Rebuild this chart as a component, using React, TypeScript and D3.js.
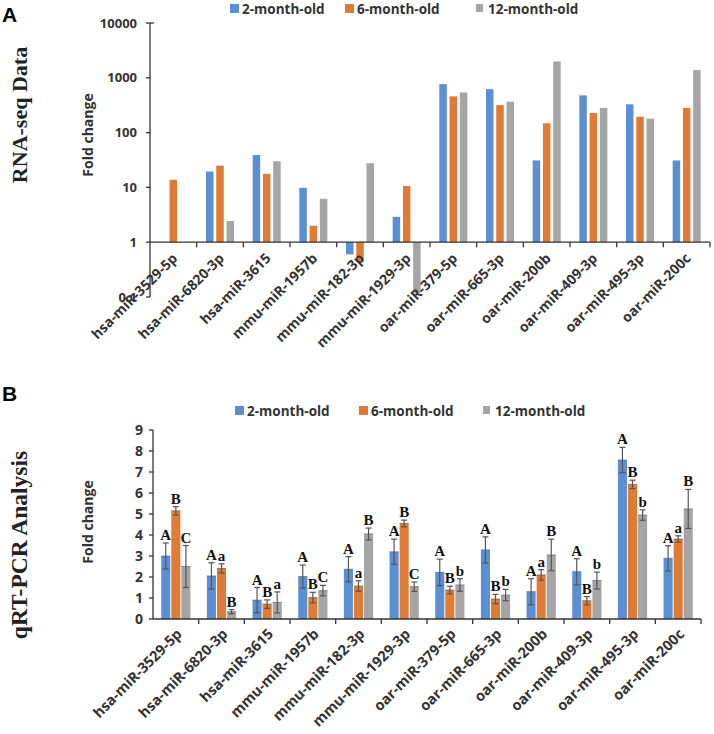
import React from "react";
import * as d3 from "d3";

const categories = [
  "hsa-miR-3529-5p", "hsa-miR-6820-3p", "hsa-miR-3615", "mmu-miR-1957b",
  "mmu-miR-182-3p", "mmu-miR-1929-3p", "oar-miR-379-5p", "oar-miR-665-3p",
  "oar-miR-200b", "oar-miR-409-3p", "oar-miR-495-3p", "oar-miR-200c",
];
const seriesNames = ["2-month-old", "6-month-old", "12-month-old"];
const colors = ["#5B8FD4", "#E07B35", "#A5A5A5"];

// Panel A: RNA-seq fold change (log scale); null = no bar
const rnaSeq2m = [null, 19.5, 39, 9.8, 0.6, 2.9, 768, 620, 31, 478, 328, 31];
const rnaSeq6m = [13.8, 25, 17.7, 2.0, 0.44, 10.6, 458, 318, 148, 228, 195, 282];
const rnaSeq12m = [null, 2.44, 30, 6.2, 27.7, 0.117, 540, 366, 1990, 282, 180, 1380];
const logTicks = [0.1, 1, 10, 100, 1000, 10000];

// Panel B: qRT-PCR fold change, error and significance letters
const qpcr2m = [3.0, 2.05, 0.9, 2.02, 2.37, 3.2, 2.22, 3.29, 1.3, 2.25, 7.57, 2.89];
const qpcr6m = [5.15, 2.41, 0.71, 1.02, 1.57, 4.55, 1.38, 0.95, 2.1, 0.87, 6.41, 3.81];
const qpcr12m = [2.5, 0.35, 0.79, 1.35, 4.05, 1.54, 1.62, 1.14, 3.05, 1.83, 4.95, 5.24];
const err2m = [0.62, 0.63, 0.6, 0.55, 0.6, 0.6, 0.63, 0.62, 0.62, 0.62, 0.6, 0.6];
const err6m = [0.2, 0.22, 0.2, 0.25, 0.25, 0.16, 0.18, 0.22, 0.25, 0.2, 0.2, 0.15];
const err12m = [1.0, 0.1, 0.5, 0.25, 0.28, 0.22, 0.3, 0.27, 0.75, 0.4, 0.25, 0.93];
const letters2m = ["A", "A", "A", "A", "A", "A", "A", "A", "A", "A", "A", "A"];
const letters6m = ["B", "a", "B", "B", "a", "B", "B", "B", "a", "B", "B", "a"];
const letters12m = ["C", "B", "a", "C", "B", "C", "b", "b", "B", "b", "b", "B"];
const linearTicks = [0, 1, 2, 3, 4, 5, 6, 7, 8, 9];

const SANS = "'Open Sans', 'Noto Sans', sans-serif";
const SERIF = "'Liberation Serif', 'DejaVu Serif', serif";

function Legend({ y, xs }: { y: number; xs: number[] }) {
  return (
    <g>
      {seriesNames.map((n, i) => (
        <g key={n}>
          <rect x={xs[i]} y={y - 5} width={i === 2 ? 7 : 9} height={i === 2 ? 8 : 9} fill={colors[i]} />
          <text x={xs[i] + 12} y={y + 4.5} fontFamily={SANS} fontWeight={700} fontSize={13.5} fill="#333">{n}</text>
        </g>
      ))}
    </g>
  );
}

function PanelA() {
  const x0 = 150, x1 = 710;
  const y = d3.scaleLog().domain([0.1, 10000]).range([297, 23]);
  const xb = d3.scaleBand<string>().domain(categories).range([x0, x1]).paddingInner(0).paddingOuter(0);
  const bw = xb.bandwidth();
  const inner = d3.scaleBand<string>().domain(seriesNames).range([bw * 0.2, bw * 0.8]).paddingInner(0.27);
  const data = [rnaSeq2m, rnaSeq6m, rnaSeq12m];
  const base = y(1);
  return (
    <g>
      <text x={2} y={22} fontFamily="'Liberation Sans', Arial, sans-serif" fontWeight={700} fontSize={21} fill="#000">A</text>
      <Legend y={9} xs={[230, 345, 476]} />
      <text transform={`translate(27,115) rotate(-90)`} textAnchor="middle" fontFamily={SERIF} fontWeight={700} fontSize={22} fill="#222">RNA-seq Data</text>
      <text transform={`translate(93,135) rotate(-90)`} textAnchor="middle" fontFamily={SANS} fontWeight={700} fontSize={14} fill="#333">Fold change</text>
      {data.map((vals, si) =>
        vals.map((v, ci) => {
          if (v == null) return null;
          const bx = (xb(categories[ci]) as number) + (inner(seriesNames[si]) as number);
          const yv = y(v);
          return <rect key={`${si}-${ci}`} x={bx} y={Math.min(yv, base)} width={inner.bandwidth()} height={Math.abs(base - yv)} fill={colors[si]} />;
        })
      )}
      <line x1={x0} x2={x0} y1={y(10000)} y2={y(0.1)} stroke="#333" strokeWidth={1.3} />
      <line x1={x0} x2={x0 + 4} y1={y(10000)} y2={y(10000)} stroke="#333" strokeWidth={1.3} />
      {logTicks.map((t) => (
        <g key={t}>
          <line x1={x0 - 4} x2={x0} y1={y(t)} y2={y(t)} stroke="#333" strokeWidth={1.3} />
          <text x={x0 - 13} y={y(t) + 4.5} textAnchor="end" fontFamily={SANS} fontWeight={700} fontSize={13} fill="#333">{String(t)}</text>
        </g>
      ))}
      <line x1={x0} x2={x1} y1={base} y2={base} stroke="#333" strokeWidth={1.3} />
      {categories.map((c) => (
        <line key={c} x1={(xb(c) as number) + bw} x2={(xb(c) as number) + bw} y1={base} y2={base + 5} stroke="#333" strokeWidth={1.3} />
      ))}
      {categories.map((c) => {
        const cx = (xb(c) as number) + bw / 2 + 5;
        return (
          <text key={c} transform={`translate(${cx},${base + 17}) rotate(-45)`} textAnchor="end" fontFamily={SANS} fontWeight={700} fontSize={14} fill="#333">{c}</text>
        );
      })}
    </g>
  );
}

function PanelB() {
  const x0 = 153, x1 = 701;
  const y = d3.scaleLinear().domain([0, 9]).range([619, 430]);
  const xb = d3.scaleBand<string>().domain(categories).range([x0, x1]).paddingInner(0).paddingOuter(0);
  const bw = xb.bandwidth();
  const inner = d3.scaleBand<string>().domain(seriesNames).range([bw * 0.18, bw * 0.82]).paddingInner(0.1);
  const data = [qpcr2m, qpcr6m, qpcr12m];
  const errs = [err2m, err6m, err12m];
  const lets = [letters2m, letters6m, letters12m];
  const base = y(0);
  const ibw = inner.bandwidth();
  return (
    <g>
      <text x={2} y={401} fontFamily="'Liberation Sans', Arial, sans-serif" fontWeight={700} fontSize={21} fill="#000">B</text>
      <Legend y={411} xs={[235, 359, 483]} />
      <text transform={`translate(27,545) rotate(-90)`} textAnchor="middle" fontFamily={SERIF} fontWeight={700} fontSize={23.5} fill="#222">qRT-PCR  Analysis</text>
      <text transform={`translate(93,522) rotate(-90)`} textAnchor="middle" fontFamily={SANS} fontWeight={700} fontSize={14} fill="#333">Fold change</text>
      {data.map((vals, si) =>
        vals.map((v, ci) => {
          const bx = (xb(categories[ci]) as number) + (inner(seriesNames[si]) as number);
          const cx = bx + ibw / 2;
          const e = errs[si][ci];
          const yt = y(v + e);
          const yb = y(Math.max(0, v - e));
          return (
            <g key={`${si}-${ci}`}>
              <rect x={bx} y={y(v)} width={ibw} height={base - y(v)} fill={colors[si]} />
              <line x1={cx} x2={cx} y1={yt} y2={yb} stroke="#555" strokeWidth={1.2} />
              <line x1={cx - 3} x2={cx + 3} y1={yt} y2={yt} stroke="#555" strokeWidth={1.2} />
              <line x1={cx - 3} x2={cx + 3} y1={yb} y2={yb} stroke="#555" strokeWidth={1.2} />
              <line x1={bx} x2={bx + ibw} y1={y(v)} y2={y(v)} stroke="#555" strokeWidth={1} opacity={0.6} />
              <text x={cx} y={yt - 3} textAnchor="middle" fontFamily={SERIF} fontWeight={700} fontSize={15} fill="#111">{lets[si][ci]}</text>
            </g>
          );
        })
      )}
      <line x1={x0} x2={x0} y1={y(9)} y2={base} stroke="#333" strokeWidth={1.3} />
      {linearTicks.map((t) => (
        <g key={t}>
          <line x1={x0 - 4} x2={x0} y1={y(t)} y2={y(t)} stroke="#333" strokeWidth={1.3} />
          <text x={x0 - 10} y={y(t) + 5} textAnchor="end" fontFamily={SANS} fontWeight={700} fontSize={14} fill="#333">{String(t)}</text>
        </g>
      ))}
      <line x1={x0} x2={x1} y1={base} y2={base} stroke="#333" strokeWidth={1.3} />
      {categories.map((c) => (
        <line key={c} x1={(xb(c) as number) + bw} x2={(xb(c) as number) + bw} y1={base} y2={base + 5} stroke="#333" strokeWidth={1.3} />
      ))}
      {categories.map((c) => {
        const cx = (xb(c) as number) + bw / 2 + 7;
        return (
          <text key={c} transform={`translate(${cx},${base + 16}) rotate(-45)`} textAnchor="end" fontFamily={SANS} fontWeight={700} fontSize={14.5} fill="#333">{c}</text>
        );
      })}
    </g>
  );
}

export default function App() {
  return (
    <svg width={714} height={734} style={{ position: "absolute", left: 0, top: 0, background: "#fff" }}>
      <rect width={714} height={734} fill="#fff" />
      <PanelA />
      <PanelB />
    </svg>
  );
}
